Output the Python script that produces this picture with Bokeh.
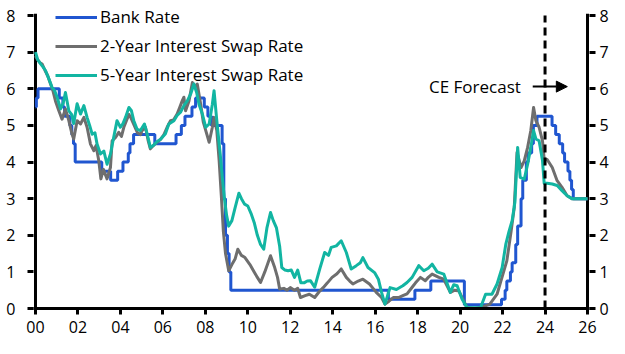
from bokeh.plotting import figure
from bokeh.models import (LinearAxis, FixedTicker, Range1d, Legend, LegendItem,
                          Span, Arrow, NormalHead)
from bokeh.core.properties import value
from bokeh.embed import file_html
from bokeh.resources import INLINE

# ---------------- data ----------------
bank_dates = [2000.00, 2000.04, 2000.12, 2001.12, 2001.29, 2001.37, 2001.62, 2001.71,
              2001.79, 2001.87, 2003.12, 2003.54, 2003.87, 2004.12, 2004.37, 2004.45,
              2004.62, 2005.62, 2006.62, 2006.87, 2007.04, 2007.37, 2007.54, 2007.95,
              2008.12, 2008.29, 2008.79, 2008.87, 2008.95, 2009.04, 2009.12, 2009.20,
              2016.62, 2017.87, 2018.62, 2020.20, 2021.95, 2022.12, 2022.20, 2022.37,
              2022.45, 2022.62, 2022.71, 2022.87, 2022.95, 2023.12, 2023.20, 2023.37,
              2023.45, 2023.62, 2024.33, 2024.50, 2024.67, 2024.83, 2024.92, 2025.08,
              2025.17, 2025.25, 2025.33, 2026.00]
bank_rate = [5.50, 5.75, 6.00, 5.75, 5.50, 5.25, 5.00, 4.75,
             4.50, 4.00, 3.75, 3.50, 3.75, 4.00, 4.25, 4.50,
             4.75, 4.50, 4.75, 5.00, 5.25, 5.50, 5.75, 5.50,
             5.25, 5.00, 4.50, 3.00, 2.00, 1.50, 1.00, 0.50,
             0.25, 0.50, 0.75, 0.10, 0.25, 0.50, 0.75, 1.00,
             1.25, 1.75, 2.25, 3.00, 3.50, 4.00, 4.25, 4.50,
             5.00, 5.25, 5.00, 4.75, 4.50, 4.25, 4.00, 3.75,
             3.50, 3.25, 3.00, 3.00]

swap2_dates = [2000.00, 2000.08, 2000.20, 2000.31, 2000.45, 2000.58, 2000.71, 2000.82,
               2000.94, 2001.10, 2001.25, 2001.41, 2001.57, 2001.72, 2001.80, 2001.96,
               2002.12, 2002.28, 2002.43, 2002.59, 2002.75, 2002.85, 2002.98, 2003.08,
               2003.20, 2003.37, 2003.53, 2003.61, 2003.77, 2003.92, 2004.05, 2004.16,
               2004.40, 2004.50, 2004.65, 2004.80, 2004.95, 2005.02, 2005.18, 2005.30,
               2005.41, 2005.55, 2005.65, 2005.89, 2006.05, 2006.20, 2006.36, 2006.50,
               2006.67, 2006.80, 2006.91, 2006.99, 2007.07, 2007.23, 2007.39, 2007.50,
               2007.62, 2007.78, 2007.90, 2008.02, 2008.18, 2008.33, 2008.41, 2008.54,
               2008.65, 2008.75, 2008.85, 2008.95, 2009.10, 2009.25, 2009.40, 2009.53,
               2009.70, 2009.85, 2010.10, 2010.30, 2010.45, 2010.60, 2010.80, 2011.07,
               2011.25, 2011.40, 2011.50, 2011.70, 2011.85, 2012.00, 2012.20, 2012.35,
               2012.48, 2012.70, 2012.90, 2013.15, 2013.35, 2013.55, 2013.75, 2013.97,
               2014.20, 2014.40, 2014.64, 2014.80, 2014.95, 2015.20, 2015.42, 2015.73,
               2015.90, 2016.05, 2016.30, 2016.46, 2016.65, 2016.85, 2017.10, 2017.30,
               2017.50, 2017.74, 2017.90, 2018.13, 2018.36, 2018.50, 2018.68, 2019.00,
               2019.23, 2019.54, 2019.75, 2019.94, 2020.17, 2020.33, 2020.70, 2021.10,
               2021.40, 2021.74, 2021.90, 2022.20, 2022.40, 2022.55, 2022.68, 2022.87,
               2023.02, 2023.18, 2023.33, 2023.46, 2023.57, 2023.72, 2023.88, 2023.96,
               2024.10, 2024.34, 2024.57, 2024.80, 2025.04, 2025.27, 2026.00]
swap2 = [6.90, 6.81, 6.72, 6.68, 6.50, 6.35, 6.13, 5.95,
         5.67, 5.40, 5.17, 5.45, 5.13, 4.76, 4.63, 5.13,
         5.04, 5.22, 4.95, 4.49, 4.31, 4.45, 4.04, 3.54,
         3.80, 3.54, 3.85, 4.58, 4.67, 4.81, 4.70, 4.95,
         5.30, 5.20, 5.00, 4.80, 4.75, 4.86, 4.95, 4.60,
         4.36, 4.45, 4.50, 4.62, 4.75, 4.95, 5.13, 5.15,
         5.31, 5.50, 5.67, 5.77, 5.40, 5.67, 6.17, 6.05,
         6.13, 5.58, 5.10, 4.86, 4.54, 4.95, 5.22, 4.86,
         4.04, 3.10, 2.10, 1.50, 1.03, 1.20, 1.35, 1.62,
         1.45, 1.40, 1.20, 1.00, 0.85, 0.71, 1.00, 1.44,
         1.15, 0.85, 0.53, 0.55, 0.50, 0.57, 0.50, 0.55,
         0.30, 0.35, 0.39, 0.30, 0.45, 0.57, 0.70, 0.85,
         0.95, 1.08, 0.85, 0.75, 0.67, 0.75, 0.80, 0.67,
         0.55, 0.44, 0.30, 0.12, 0.20, 0.30, 0.30, 0.35,
         0.40, 0.58, 0.70, 0.85, 0.76, 0.85, 0.94, 0.85,
         0.80, 0.44, 0.50, 0.48, 0.21, 0.02, 0.00, 0.05,
         0.12, 0.39, 0.71, 1.30, 2.10, 2.76, 4.26, 3.85,
         4.03, 4.40, 4.86, 5.49, 5.13, 4.95, 4.58, 4.08,
         4.07, 3.85, 3.49, 3.31, 3.08, 3.00, 3.00]

swap5_dates = [2000.00, 2000.10, 2000.24, 2000.35, 2000.47, 2000.63, 2000.78, 2000.90,
               2001.02, 2001.18, 2001.30, 2001.41, 2001.57, 2001.70, 2001.80, 2001.96,
               2002.12, 2002.28, 2002.43, 2002.55, 2002.67, 2002.80, 2002.90, 2003.06,
               2003.22, 2003.37, 2003.53, 2003.69, 2003.84, 2004.00, 2004.12, 2004.24,
               2004.40, 2004.52, 2004.63, 2004.78, 2004.94, 2005.13, 2005.26, 2005.41,
               2005.55, 2005.70, 2005.89, 2006.12, 2006.28, 2006.52, 2006.67, 2006.83,
               2006.99, 2007.15, 2007.31, 2007.46, 2007.59, 2007.70, 2007.86, 2008.02,
               2008.18, 2008.33, 2008.41, 2008.54, 2008.70, 2008.80, 2008.90, 2009.00,
               2009.10, 2009.25, 2009.40, 2009.58, 2009.70, 2009.85, 2010.00, 2010.15,
               2010.30, 2010.45, 2010.60, 2010.75, 2010.90, 2011.07, 2011.20, 2011.35,
               2011.50, 2011.60, 2011.75, 2011.90, 2012.05, 2012.20, 2012.35, 2012.50,
               2012.65, 2012.80, 2012.95, 2013.15, 2013.39, 2013.62, 2013.80, 2013.93,
               2014.17, 2014.40, 2014.64, 2014.87, 2015.11, 2015.30, 2015.42, 2015.66,
               2015.97, 2016.15, 2016.30, 2016.46, 2016.70, 2017.00, 2017.30, 2017.50,
               2017.74, 2018.05, 2018.29, 2018.50, 2018.68, 2018.92, 2019.23, 2019.54,
               2019.70, 2019.86, 2020.09, 2020.33, 2020.96, 2021.20, 2021.50, 2021.74,
               2021.98, 2022.15, 2022.30, 2022.45, 2022.58, 2022.71, 2022.83, 2023.02,
               2023.18, 2023.33, 2023.46, 2023.57, 2023.72, 2023.88, 2023.96, 2024.10,
               2024.34, 2024.57, 2024.80, 2025.04, 2025.27, 2026.00]
swap5 = [7.00, 6.80, 6.68, 6.60, 6.50, 6.27, 6.04, 5.95,
         5.77, 5.45, 5.60, 5.90, 5.40, 5.30, 5.05, 5.59,
         5.31, 5.54, 5.22, 5.00, 4.76, 4.80, 4.49, 4.22,
         4.30, 3.94, 4.22, 4.70, 5.13, 4.95, 5.05, 5.22,
         5.49, 5.40, 5.13, 4.90, 4.86, 5.04, 4.77, 4.40,
         4.45, 4.55, 4.62, 4.77, 5.04, 5.13, 5.27, 5.36,
         5.54, 5.67, 5.86, 6.13, 5.90, 5.58, 5.31, 4.95,
         5.04, 5.58, 5.95, 5.13, 4.22, 3.58, 3.00, 2.55,
         2.25, 2.40, 2.75, 3.15, 3.00, 2.85, 2.80, 2.60,
         2.35, 2.00, 1.75, 1.62, 2.20, 2.62, 2.40, 2.20,
         1.70, 1.12, 1.05, 1.03, 1.05, 0.85, 1.05, 0.70,
         0.70, 0.75, 0.76, 0.58, 1.08, 1.53, 1.45, 1.67,
         1.71, 1.85, 1.53, 1.08, 1.17, 1.25, 1.39, 1.12,
         0.98, 0.80, 0.44, 0.12, 0.57, 0.52, 0.62, 0.71,
         0.85, 1.17, 1.03, 1.10, 1.21, 1.00, 0.94, 0.44,
         0.65, 0.62, 0.26, 0.02, 0.02, 0.39, 0.39, 0.67,
         1.12, 1.75, 2.10, 2.40, 2.90, 4.40, 3.58, 3.53,
         3.94, 4.40, 4.86, 4.63, 4.58, 4.04, 3.42, 3.42,
         3.40, 3.36, 3.22, 3.08, 3.00, 3.00]

series_names = ["Bank Rate", "2-Year Interest Swap Rate", "5-Year Interest Swap Rate"]
x_ticks = [2000, 2002, 2004, 2006, 2008, 2010, 2012, 2014, 2016, 2018, 2020, 2022, 2024, 2026]
x_tick_labels = ["00", "02", "04", "06", "08", "10", "12", "14", "16", "18", "20", "22", "24", "26"]
y_ticks = [0, 1, 2, 3, 4, 5, 6, 7, 8]
forecast_start = 2024
forecast_label = "CE Forecast"

# ---------------- styling ----------------
FONT = "Open Sans"
BLUE = "#2056D0"
GREY = "#6E6E6E"
TEAL = "#12B5A2"

X0, X1 = 2000, 2026
Y0, Y1 = 0, 8
# frame is a little larger than the axis extent so that the legend (which sits
# level with the top tick) is not clipped; the axis lines are drawn explicitly.
p = figure(width=625, height=354,
           x_range=Range1d(X0 - 0.094, X1 + 0.094), y_range=Range1d(Y0, 8.33),
           output_backend="svg", toolbar_location=None,
           min_border_left=33, min_border_right=36, min_border_top=3, min_border_bottom=46)
p.outline_line_color = None
p.xgrid.visible = False
p.ygrid.visible = False
p.background_fill_color = "white"
p.border_fill_color = "white"

def style_axis(ax, standoff):
    ax.axis_line_color = "black"
    ax.axis_line_width = 3
    ax.major_tick_line_color = "black"
    ax.major_tick_line_width = 3
    ax.major_tick_in = 0
    ax.major_tick_out = 6
    ax.minor_tick_line_color = None
    ax.major_label_text_font = FONT
    ax.major_label_text_font_size = "16px"
    ax.major_label_text_color = "black"
    ax.major_label_standoff = standoff

xa = p.xaxis[0]
xa.ticker = FixedTicker(ticks=x_ticks)
xa.major_label_overrides = {t: lab for t, lab in zip(x_ticks, x_tick_labels)}
style_axis(xa, 6)

ya = p.yaxis[0]
ya.ticker = FixedTicker(ticks=y_ticks)
style_axis(ya, 12)
ya.axis_line_color = None

yr = LinearAxis(ticker=FixedTicker(ticks=y_ticks))
style_axis(yr, 4)
yr.axis_line_color = None
p.add_layout(yr, "right")

# vertical axis lines (left and right), from 0 to just above the top tick
p.segment(x0=[X0, X1], y0=[Y0, Y0], x1=[X0, X1], y1=[Y1 + 0.05, Y1 + 0.05],
          line_color="black", line_width=3)

r_bank = p.step(bank_dates, bank_rate, mode="after", line_color=BLUE, line_width=3)
r_2y = p.line(swap2_dates, swap2, line_color=GREY, line_width=3, line_join="round")
r_5y = p.line(swap5_dates, swap5, line_color=TEAL, line_width=3, line_join="round")

p.segment(x0=[forecast_start], y0=[Y0], x1=[forecast_start], y1=[Y1],
          line_color="black", line_width=3, line_dash="8 5")

p.text(x=[2022.86], y=[6.06], text=[forecast_label], text_align="right",
       text_baseline="middle", text_font=value(FONT), text_font_size="17px",
       text_color="black")
p.add_layout(Arrow(x_start=2023.42, y_start=6.06, x_end=2025.05, y_end=6.06,
                   line_color="black", line_width=2,
                   end=NormalHead(size=11, fill_color="black", line_color="black")))

legend = Legend(items=[LegendItem(label=series_names[0], renderers=[r_bank]),
                       LegendItem(label=series_names[1], renderers=[r_2y]),
                       LegendItem(label=series_names[2], renderers=[r_5y])],
                location=(22, 222), padding=0, margin=0, spacing=6,
                glyph_width=42, glyph_height=20, label_height=20, label_standoff=3,
                label_text_font=FONT, label_text_font_size="17px",
                label_text_color="black", background_fill_alpha=0,
                border_line_alpha=0)
p.add_layout(legend)

open("out.html", "w").write(file_html(p, INLINE))
